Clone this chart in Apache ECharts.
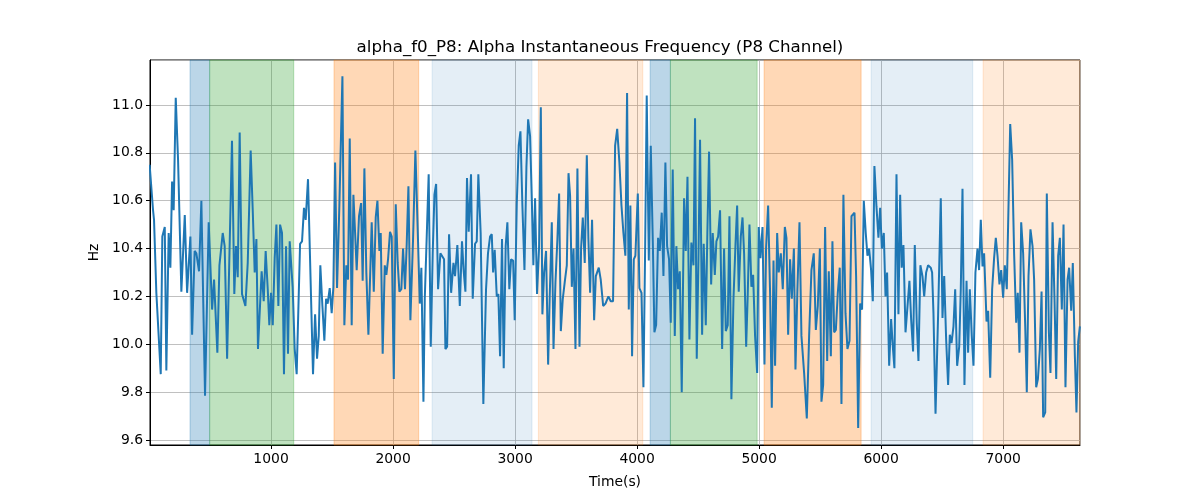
<!DOCTYPE html>
<html><head><meta charset="utf-8">
<script src="https://cdn.jsdelivr.net/npm/echarts@6/dist/echarts.min.js"></script>
<style>html,body{margin:0;padding:0;background:#fff}#c{width:1200px;height:500px}</style>
</head><body><div id="c"></div>
<script>
const titleText = 'alpha_f0_P8: Alpha Instantaneous Frequency (P8 Channel)';
const xName = 'Time(s)';
const yName = 'Hz';
const times = [5,33,41,60,96,109,129,142,161,175,189,202,219,238,265,293,312,339,353,374,388,410,429,443,459,489,517,533,560,577,604,620,640,
680,699,713,727,743,762,776,790,809,833,850,866,880,893,923,940,956,973,986,1000,1014,1030,1044,1060,1074,1090,1106,1123,1139,1153,1177,1194,1210,1238,1254,1270,1284,
1303,1344,1361,1377,1391,1404,1421,1437,1451,1464,1481,1497,1511,1525,1541,1560,1585,1601,1617,1631,1645,1661,1675,1689,1702,1721,1738,1751,1765,1781,1798,1825,1842,1858,1872,1888,1899,1915,
1932,1945,1959,1975,1989,2006,2022,2038,2052,2068,2082,2098,2112,2126,2142,2164,2183,2202,2219,2232,2249,2260,2279,2292,2309,2325,2339,2353,2369,2388,2404,2418,2429,2443,2459,2476,2495,2508,2527,2547,
2565,2579,2593,2606,2620,2639,2653,2672,2686,2699,2718,2740,2762,2778,2795,2809,2820,2833,2850,2863,2877,2893,2907,2923,2937,2953,2967,2984,2997,3014,3030,3044,3060,3077,3093,3107,3123,3137,3150,3164,3180,3197,
3211,3224,3238,3254,3271,3284,3301,3315,3331,3347,3361,3375,3391,3407,3424,3438,3451,3465,3479,3495,3511,3528,3541,3555,3571,3588,3601,3615,3631,3648,3662,3686,3702,3722,3741,3765,3784,3803,3820,3837,
3855,3872,3888,3904,3918,3932,3945,3959,3973,3986,4006,4019,4036,4052,4066,4079,4096,4112,4129,4142,4156,4172,4186,4202,4216,4232,4246,4262,4276,4292,4309,4322,4336,4350,4366,4385,4399,4413,4429,4445,4462,4475,
4489,4503,4516,4533,4546,4563,4576,4590,4607,4620,4637,4650,4664,4680,4697,4713,4727,4743,4757,4773,4790,4806,4820,4833,4850,4864,4877,4894,4907,4921,4937,4951,4967,4984,4997,5011,5028,5044,5057,5074,5090,5104,5118,
5131,5148,5161,5178,5194,5211,5224,5238,5254,5268,5285,5298,5314,5331,5347,5369,5391,5410,5429,5448,5465,5481,5498,5511,5525,5541,5558,5571,5588,5601,5615,5629,5645,5661,5675,5691,5708,5724,5741,5757,
5782,5795,5812,5828,5844,5858,5874,5888,5902,5918,5932,5945,5962,5978,5992,6006,6022,6036,6049,6066,6082,6096,6109,6126,6142,6156,6169,6183,6200,6216,6232,6246,6262,6276,6292,6306,6322,6339,6353,6369,6385,
6407,6418,6429,6446,6467,6489,6503,6517,6533,6549,6563,6577,6593,6607,6623,6640,6653,6667,6683,6700,6713,6727,6743,6757,6773,6790,6803,6817,6831,6844,6864,6877,6894,6910,6926,6940,6954,6970,6984,7000,7014,7030,
7058,7074,7090,7107,7120,7134,7148,7164,7181,7194,7208,7224,7241,7254,7271,7285,7301,7315,7328,7345,7358,7375,7388,7405,7421,7435,7451,7465,7481,7495,7511,7528,7541,7558,7571,7588,7601,7615,7629];
const values = [10.75,10.56,10.52,10.215,9.875,10.45,10.49,9.89,10.465,10.32,10.68,10.56,11.03,10.77,10.22,10.54,10.215,10.45,10.04,10.39,10.38,10.305,10.60,10.215,9.785,10.51,10.145,10.27,9.965,10.33,10.465,10.41,9.94,
10.85,10.21,10.41,10.28,10.885,10.21,10.21,10.16,10.34,10.81,10.56,10.30,10.44,9.98,10.305,10.18,10.39,10.23,10.08,10.215,10.08,10.36,10.50,10.16,10.50,10.465,9.875,10.41,9.96,10.43,10.24,9.98,9.875,10.42,10.43,10.57,10.52,
10.69,9.875,10.125,9.94,10.035,10.33,10.16,10.015,10.19,10.17,10.235,10.13,10.24,10.76,10.235,10.58,11.12,10.08,10.33,10.27,10.86,10.08,10.625,10.465,10.31,10.535,10.59,10.265,10.735,10.30,10.04,10.51,10.22,10.53,10.60,10.39,10.465,9.96,
10.33,10.29,10.355,10.47,10.45,9.855,10.585,10.34,10.22,10.23,10.40,10.23,10.42,10.66,10.10,10.44,10.81,10.48,10.17,10.32,9.76,10.19,10.50,10.71,9.99,10.38,10.625,10.67,10.23,10.38,10.375,10.355,9.98,9.99,10.46,10.215,10.34,10.285,10.415,10.16,
10.43,10.305,10.22,10.695,10.47,10.71,10.19,10.42,10.43,10.71,10.465,9.75,10.23,10.38,10.45,10.46,10.30,10.395,10.20,10.21,9.95,10.44,9.90,10.41,10.51,10.23,10.355,10.35,10.10,10.59,10.83,10.89,10.58,10.31,10.74,10.94,10.87,10.61,10.33,10.61,10.21,10.41,
10.99,10.125,10.30,10.39,9.915,10.20,10.51,9.98,10.26,10.44,10.63,10.055,10.19,10.26,10.33,10.715,10.62,10.24,10.40,9.98,10.735,9.99,10.40,10.53,10.34,10.79,10.44,10.215,10.52,10.10,10.285,10.32,10.27,10.16,10.17,10.20,10.18,10.18,10.83,10.90,
10.76,10.58,10.465,10.37,11.05,10.145,10.58,9.95,10.355,10.37,10.63,10.235,10.215,9.82,10.40,11.04,10.35,10.83,10.425,10.05,10.08,10.445,10.39,10.55,10.285,10.76,10.41,10.355,10.09,10.73,10.035,10.41,10.23,10.305,9.80,10.61,10.39,10.70,10.02,10.425,10.33,10.945,
9.94,10.36,10.855,10.04,10.42,10.08,10.465,10.805,10.25,10.465,10.29,10.43,10.45,10.56,9.98,10.40,10.055,10.08,10.535,9.77,10.19,10.41,10.58,10.22,10.45,10.53,10.38,9.99,10.21,10.50,10.24,10.29,10.035,9.88,10.49,10.36,10.49,9.915,10.40,10.58,10.215,9.735,10.35,
9.91,10.465,10.30,10.38,10.23,10.49,10.445,10.04,10.355,10.19,10.40,9.895,10.23,10.51,10.035,9.88,9.69,10.035,10.31,10.38,10.06,10.16,10.40,9.76,9.83,10.49,9.93,10.305,9.95,10.43,10.05,10.06,10.215,10.32,9.75,10.625,10.13,9.98,10.015,10.535,
10.55,10.285,9.65,10.17,10.145,10.60,10.465,10.37,10.40,10.31,10.18,10.745,10.575,10.445,10.57,10.40,10.465,10.20,10.30,9.91,10.105,9.99,9.90,10.71,10.125,10.625,10.32,10.415,10.05,10.05,10.265,10.105,9.97,10.415,10.09,9.93,10.33,10.285,10.20,10.30,10.33,
10.32,10.30,10.13,9.71,10.12,10.61,10.11,10.285,10.02,9.83,10.04,10.005,10.075,10.23,9.91,9.99,10.23,10.65,9.83,10.265,9.965,10.23,10.035,9.91,10.30,10.40,10.31,10.52,10.325,10.38,10.095,10.14,9.86,10.23,10.36,10.445,10.37,10.25,10.31,10.195,10.33,10.23,
10.92,10.77,10.38,10.09,10.215,9.965,10.51,10.38,10.075,9.80,10.285,10.48,10.41,10.27,9.82,9.855,9.98,10.22,9.695,9.715,10.63,10.05,9.88,10.51,10.19,9.855,10.37,10.445,10.145,10.50,9.82,10.27,10.32,10.14,10.34,9.95,9.715,10.01,10.075];
const bandStarts = [336, 497, 1516, 2320, 3191, 4107, 4273, 5041, 5918, 6836];
const bandEnds   = [497, 1186, 2210, 3139, 4047, 4273, 4984, 5836, 6751, 7630];
const bandKinds  = ['blue','green','orange','lightblue','lightorange','blue','green','orange','lightblue','lightorange'];
const xRange = [8, 7630];
const yRange = [9.579, 11.188];
const xStep = 1000;
const yStep = 0.2;

const bandColors = {
  blue: 'rgba(31,119,180,0.3)',
  green: 'rgba(44,160,44,0.3)',
  orange: 'rgba(255,127,14,0.3)',
  lightblue: 'rgba(31,119,180,0.12)',
  lightorange: 'rgba(255,127,14,0.16)'
};

const lineData = times.map((t, i) => [t, values[i]]);
const areas = bandStarts.map((s, i) => [
  { xAxis: s, itemStyle: { color: bandColors[bandKinds[i]], borderColor: bandColors[bandKinds[i]], borderWidth: 1 } },
  { xAxis: bandEnds[i] }
]);

const font = 'DejaVu Sans';
const chart = echarts.init(document.getElementById('c'), null, { renderer: 'canvas' });
chart.setOption({
  animation: false,
  backgroundColor: '#fff',
  title: {
    text: titleText, left: 'center', top: 34,
    textStyle: { fontFamily: font, fontSize: 16.7, fontWeight: 'normal', color: '#000' }
  },
  grid: { left: 150, right: 120, top: 60, bottom: 55, show: true, borderColor: '#000', borderWidth: 1, backgroundColor: 'transparent' },
  xAxis: {
    type: 'value', min: xRange[0], max: xRange[1], minInterval: xStep, maxInterval: xStep,
    name: xName, nameLocation: 'middle', nameGap: 30,
    nameTextStyle: { fontFamily: font, fontSize: 13.9, color: '#000' },
    axisLine: { show: true, lineStyle: { color: '#000', width: 1 } },
    axisTick: { show: true, length: 4, lineStyle: { color: '#000' } },
    axisLabel: { fontFamily: font, fontSize: 13.9, color: '#000', margin: 7, showMinLabel: false, showMaxLabel: false,
      formatter: v => String(Math.round(v)) },
    splitLine: { show: true, lineStyle: { color: '#b0b0b0', width: 0.8 } }
  },
  yAxis: {
    type: 'value', min: yRange[0], max: yRange[1], minInterval: yStep, maxInterval: yStep,
    name: yName, nameLocation: 'middle', nameGap: 42,
    nameTextStyle: { fontFamily: font, fontSize: 13.9, color: '#000' },
    axisLine: { show: true, lineStyle: { color: '#000', width: 1 } },
    axisTick: { show: true, length: 4, lineStyle: { color: '#000' } },
    axisLabel: { fontFamily: font, fontSize: 13.9, color: '#000', margin: 7, showMinLabel: false, showMaxLabel: false,
      formatter: v => v.toFixed(1) },
    splitLine: { show: true, lineStyle: { color: '#b0b0b0', width: 0.8 } }
  },
  series: [
    { type: 'line', data: [], z: 1, silent: true, markArea: { silent: true, data: areas } },
    { type: 'line', data: lineData, z: 3, showSymbol: false, symbol: 'none', smooth: false,
      lineStyle: { color: '#1f77b4', width: 2 }, itemStyle: { color: '#1f77b4' } }
  ]
});
</script></body></html>
